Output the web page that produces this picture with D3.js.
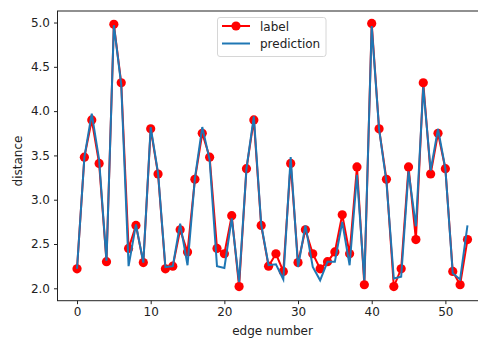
<!DOCTYPE html>
<html>
<head>
<meta charset="utf-8">
<script src="https://cdn.jsdelivr.net/npm/d3@7"></script>
<style>
  body { margin: 0; background: #fff; }
  text { font-family: "DejaVu Sans", sans-serif; fill: #222; }
</style>
</head>
<body>
<div id="chart"></div>
<script>
// values
var edge = d3.range(0, 54)

var label = [2.22, 3.48, 3.90, 3.41, 2.30, 4.98, 4.32, 2.45, 2.71, 2.29,
  3.80, 3.29, 2.22, 2.25, 2.66, 2.41, 3.23, 3.75, 3.48, 2.45,
  2.39, 2.82, 2.02, 3.35, 3.90, 2.71, 2.25, 2.39, 2.19, 3.41,
  2.29, 2.66, 2.39, 2.22, 2.30, 2.41, 2.83, 2.39, 3.37, 2.04,
  4.99, 3.80, 3.23, 2.02, 2.22, 3.37, 2.55, 4.32, 3.29, 3.75,
  3.35, 2.19, 2.04, 2.55]

var prediction = [2.22, 3.48, 3.97, 3.45, 2.31, 4.97, 4.30, 2.25, 2.72, 2.29,
  3.82, 3.30, 2.24, 2.25, 2.73, 2.26, 3.24, 3.82, 3.45, 2.25,
  2.23, 2.79, 2.07, 3.35, 3.94, 2.72, 2.26, 2.27, 2.10, 3.48,
  2.24, 2.71, 2.24, 2.09, 2.30, 2.30, 2.75, 2.26, 3.28, 2.09,
  4.96, 3.80, 3.20, 2.11, 2.13, 3.32, 2.70, 4.27, 3.33, 3.80,
  3.35, 2.17, 2.10, 2.71]

var xTicks = [0, 10, 20, 30, 40, 50]
var yTicks = [2.0, 2.5, 3.0, 3.5, 4.0, 4.5, 5.0]

var width = 478,
    height = 338;

// axes box (right side runs past the picture edge)
var boxL = 57.5, boxR = 487, boxT = 11, boxB = 300.7;

var x = d3.scaleLinear().domain([-2.65, 55.65]).range([boxL, boxR])
var y = d3.scaleLinear().domain([1.86, 5.13]).range([boxB, boxT])

var svg = d3.select("#chart")
  .append("svg")
  .attr("width", width)
  .attr("height", height);

var line = d3.line()
  .x(function(d, i) { return x(edge[i]); })
  .y(function(d) { return y(d); });

// label series: red line + dots
svg.append("path")
  .datum(label)
  .attr("d", line)
  .attr("fill", "none")
  .attr("stroke", "#ff0000")
  .attr("stroke-width", 2);

svg.append("g")
  .selectAll("circle")
  .data(label)
  .enter()
  .append("circle")
  .attr("cx", function(d, i) { return x(edge[i]); })
  .attr("cy", function(d) { return y(d); })
  .attr("r", 4.6)
  .attr("fill", "#ff0000");

// prediction on top
svg.append("path")
  .datum(prediction)
  .attr("d", line)
  .attr("fill", "none")
  .attr("stroke", "#1f77b4")
  .attr("stroke-width", 2);

// spines
svg.append("rect")
  .attr("x", boxL)
  .attr("y", boxT)
  .attr("width", boxR - boxL)
  .attr("height", boxB - boxT)
  .attr("fill", "none")
  .attr("stroke", "#222")
  .attr("stroke-width", 1);

var xAxis = svg.append("g")
  .attr("transform", "translate(0," + boxB + ")")
  .call(d3.axisBottom(x).tickValues(xTicks).tickFormat(d3.format("d")).tickSize(3.5).tickPadding(3))
xAxis.select(".domain").remove()

var yAxis = svg.append("g")
  .attr("transform", "translate(" + boxL + ",0)")
  .call(d3.axisLeft(y).tickValues(yTicks).tickFormat(d3.format(".1f")).tickSize(3.5).tickPadding(4))
yAxis.select(".domain").remove()

svg.selectAll(".tick line").attr("stroke", "#222")
svg.selectAll(".tick text")
  .style("font-family", "DejaVu Sans, sans-serif")
  .style("font-size", "12px")
  .attr("fill", "#222")

// axis titles
svg.append("text")
  .attr("x", 272.5)
  .attr("y", 334.5)
  .attr("text-anchor", "middle")
  .style("font-size", "12px")
  .text("edge number");

svg.append("text")
  .attr("transform", "translate(22,161) rotate(-90)")
  .attr("text-anchor", "middle")
  .style("font-size", "12px")
  .text("distance");

// legend
var legend = svg.append("g");

legend.append("rect")
  .attr("x", 217.5)
  .attr("y", 17.5)
  .attr("width", 108.5)
  .attr("height", 39)
  .attr("rx", 2.5)
  .attr("fill", "#fff")
  .attr("fill-opacity", 0.8)
  .attr("stroke", "#d6d6d6");

legend.append("line")
  .attr("x1", 222).attr("x2", 250)
  .attr("y1", 26).attr("y2", 26)
  .attr("stroke", "#ff0000")
  .attr("stroke-width", 2);

legend.append("circle")
  .attr("cx", 236).attr("cy", 26)
  .attr("r", 4.6)
  .attr("fill", "#ff0000");

legend.append("line")
  .attr("x1", 222).attr("x2", 250)
  .attr("y1", 43.5).attr("y2", 43.5)
  .attr("stroke", "#1f77b4")
  .attr("stroke-width", 2);

legend.append("text")
  .attr("x", 260).attr("y", 30.5)
  .style("font-size", "12px")
  .text("label");

legend.append("text")
  .attr("x", 260).attr("y", 47.5)
  .style("font-size", "12px")
  .text("prediction");
</script>
</body>
</html>
